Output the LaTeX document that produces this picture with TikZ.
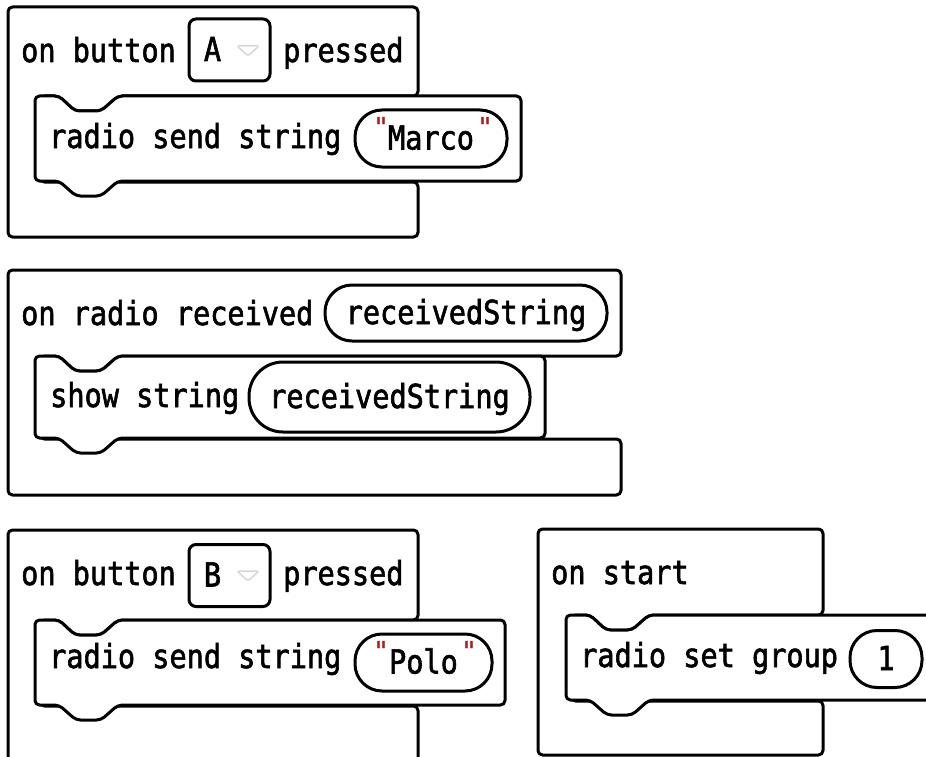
\documentclass[tikz,border=0pt]{standalone}
\usepackage{fontspec}
\usetikzlibrary{positioning}

\newfontfamily\blockfamily[FakeStretch=0.865,FakeBold=1.8]{DejaVu Sans Mono}
\newfontfamily\quotefamily[FakeBold=1]{DejaVu Sans Mono}
\newcommand{\blockfont}{\blockfamily\fontsize{33}{36}\selectfont}
\newcommand{\quotefont}{\quotefamily\fontsize{26}{28}\selectfont}
\definecolor{quotered}{RGB}{170,30,30}
\definecolor{arrowgray}{RGB}{215,215,215}

% C-shaped event block: left, top, right, arm bottom, statement left, arm top, bottom
\newcommand{\cshape}[7]{%
  \draw[blockline] (#1,#2) -- (#3,#2) -- (#3,#4) -- ({#5+83},#4) -- ({#5+66},{#4+15})
    -- ({#5+40},{#4+15}) -- ({#5+24},#4) -- ({#5+5},#4) -- ({#5+5},#6)
    -- (#3,#6) -- (#3,#7) -- (#1,#7) -- cycle;}
% statement block with notch and tab: left, top, right, bottom
\newcommand{\stmtshape}[4]{%
  \draw[blockline] (#1,#2) -- ({#1+24},#2) -- ({#1+40},{#2+15}) -- ({#1+66},{#2+15})
    -- ({#1+83},#2) -- (#3,#2) -- (#3,#4) -- ({#1+83},#4) -- ({#1+66},{#4+15})
    -- ({#1+41},{#4+15}) -- ({#1+24},#4) -- (#1,#4) -- cycle;}

\tikzset{
  blockline/.style={draw=black, line width=3pt, fill=white, rounded corners=4.5pt, line join=round},
  label/.style={font=\blockfont, inner sep=0pt, anchor=base west},
  keyletter/.style={font=\blockfont, inner sep=0pt, text height=22pt, text depth=0pt},
  pill/.style={draw=black, line width=3pt, fill=white, inner sep=0pt, font=\blockfont,
    text height=22pt, text depth=0pt, rounded corners=27pt},
  dropbox/.style={draw=black, line width=3pt, fill=white, rounded corners=7pt, inner sep=0pt},
  droparrow/.style={draw=arrowgray, line width=1.5pt, rounded corners=1.5pt, line join=round},
  quotemark/.style={font=\quotefont, text=quotered, inner sep=0pt, anchor=base},
}

\begin{document}
\begin{tikzpicture}[x=1pt,y=-1pt]
  \clip (0,0) rectangle (926,757);
  \fill[white] (0,0) rectangle (926,757);

  % on button A pressed
  \cshape{8}{7}{418}{96}{35}{182}{237}
  \stmtshape{35}{96}{521}{181}
  \node[label] (hdrA) at (21,62) {on button};
  \node[dropbox, minimum width=81pt, minimum height=62pt] (ddA) at (229.5,50) {};
  \node[keyletter] (keyA) at (212.5,50) {A};
  \draw[droparrow] (237,46) -- (259,46) -- (248,56) -- cycle;
  \node[label] (prA) at (283,62) {pressed};
  \node[label] (sendA) at (49,148) {radio send string};
  \node[pill, minimum width=152pt, minimum height=57pt] (strA) at (431,138.5) {Marco};
  \node[quotemark] (qAl) at (381,136) {"};
  \node[quotemark] (qAr) at (485,136) {"};

  % on radio received
  \cshape{8}{270}{621}{356}{35}{439}{495}
  \stmtshape{35}{356}{545}{438}
  \node[label] (hdrR) at (21,325) {on radio received};
  \node[pill, minimum width=282pt, minimum height=56pt] (varR) at (466,313) {receivedString};
  \node[label] (showR) at (50,407) {show string};
  \node[pill, minimum width=281pt, minimum height=70pt, rounded corners=34pt] (varS) at (389.5,397) {receivedString};

  % on button B pressed
  \cshape{8}{530}{418}{620}{35}{706}{800}
  \stmtshape{35}{620}{505}{705}
  \node[label] (hdrB) at (21,585) {on button};
  \node[dropbox, minimum width=81pt, minimum height=62pt] (ddB) at (229.5,575.5) {};
  \node[keyletter] (keyB) at (212.5,575.5) {B};
  \draw[droparrow] (237,571) -- (259,571) -- (248,581) -- cycle;
  \node[label] (prB) at (283,585) {pressed};
  \node[label] (sendB) at (49,668) {radio send string};
  \node[pill, minimum width=137pt, minimum height=57pt] (strB) at (423.5,662.5) {Polo};
  \node[quotemark] (qBl) at (381,660) {"};
  \node[quotemark] (qBr) at (469,660) {"};

  % on start
  \cshape{538}{529}{823}{615}{566}{701}{755}
  \stmtshape{566}{615}{960}{700}
  \node[label] (hdrS) at (551,584) {on start};
  \node[label] (setS) at (580,667) {radio set group};
  \node[pill, minimum width=72pt, minimum height=57pt] (grpS) at (886,659) {1};
\end{tikzpicture}
\end{document}
